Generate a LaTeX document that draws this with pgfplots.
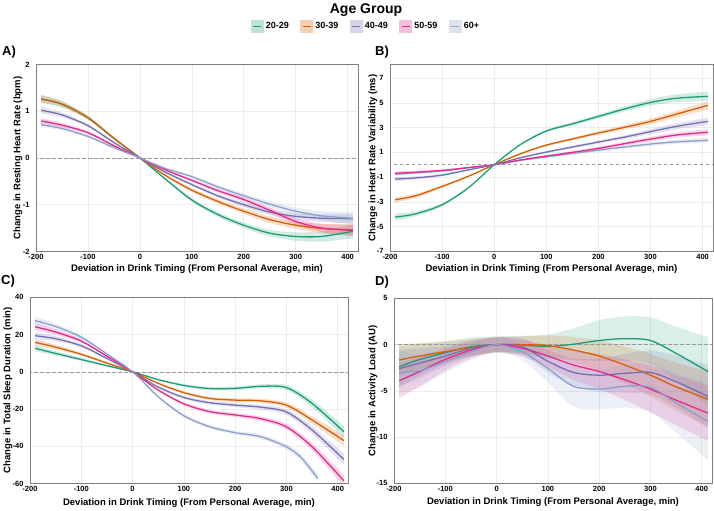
\documentclass[border=0pt]{standalone}
\usepackage{pgfplots}
\pgfplotsset{compat=1.18}
\usepackage{pgfplotstable}
\usepgfplotslibrary{fillbetween}
\usepackage{fontspec}
\setmainfont{Liberation Sans}
\definecolor{colg}{HTML}{1B9E77}
\definecolor{colo}{HTML}{D95F02}
\definecolor{colp}{HTML}{7570B3}
\definecolor{colm}{HTML}{E7298A}
\definecolor{colb}{HTML}{8DA0CB}
\definecolor{bordergray}{HTML}{7F7F7F}

% Panel A: resting heart rate
\pgfplotstableread{
x g o p m b eg eo ep em eb
-190 1.26 1.26 1.02 0.79 0.71 0.09 0.08 0.07 0.06 0.05
-150 1.15 1.15 0.92 0.70 0.63 0.07 0.06 0.05 0.05 0.04
-100 0.86 0.86 0.69 0.54 0.46 0.04 0.04 0.03 0.03 0.03
-50 0.42 0.42 0.33 0.26 0.22 0.02 0.02 0.02 0.02 0.02
0 0 0 0 0 0 0.005 0.005 0.005 0.005 0.005
50 -0.46 -0.38 -0.31 -0.26 -0.23 0.02 0.02 0.02 0.02 0.02
100 -0.90 -0.69 -0.57 -0.48 -0.40 0.04 0.04 0.03 0.03 0.03
150 -1.21 -0.93 -0.81 -0.70 -0.62 0.05 0.05 0.04 0.04 0.04
200 -1.44 -1.14 -1.00 -0.89 -0.81 0.06 0.06 0.05 0.05 0.05
250 -1.61 -1.32 -1.16 -1.12 -0.99 0.07 0.07 0.06 0.06 0.06
300 -1.68 -1.44 -1.25 -1.36 -1.14 0.09 0.08 0.07 0.07 0.08
350 -1.68 -1.51 -1.29 -1.50 -1.24 0.11 0.10 0.08 0.09 0.10
410 -1.57 -1.54 -1.30 -1.55 -1.29 0.15 0.13 0.10 0.12 0.13
}\tabA

% Panel B: heart rate variability
\pgfplotstableread{
x g o p m b eg eo ep em eb
-190 -4.23 -2.83 -1.16 -0.70 -0.75 0.28 0.22 0.18 0.15 0.14
-150 -3.96 -2.50 -1.06 -0.60 -0.65 0.20 0.16 0.13 0.11 0.10
-100 -3.23 -1.75 -0.84 -0.46 -0.50 0.12 0.10 0.08 0.07 0.07
-50 -1.88 -0.94 -0.42 -0.23 -0.25 0.05 0.05 0.04 0.04 0.04
0 0 0 0 0 0 0.01 0.01 0.01 0.01 0.01
50 1.62 0.88 0.56 0.38 0.35 0.06 0.05 0.04 0.04 0.04
100 2.72 1.58 1.02 0.70 0.63 0.10 0.08 0.07 0.07 0.06
150 3.30 2.08 1.43 1.00 0.91 0.13 0.11 0.10 0.09 0.08
200 3.90 2.56 1.83 1.32 1.18 0.17 0.14 0.13 0.12 0.10
250 4.50 3.02 2.23 1.70 1.43 0.21 0.18 0.16 0.15 0.12
300 5.03 3.50 2.67 2.07 1.67 0.26 0.22 0.20 0.18 0.14
350 5.37 4.09 3.10 2.40 1.85 0.31 0.27 0.24 0.21 0.16
410 5.52 4.79 3.50 2.62 1.97 0.38 0.33 0.29 0.25 0.19
}\tabB

% Panel C: total sleep duration
\pgfplotstableread{
x g o p m eg eo ep em
-190 12.6 15.8 19.4 24.2 1.6 1.7 1.8 2.0
-150 9.9 13.3 17.8 21.4 1.2 1.3 1.4 1.5
-100 6.6 9.4 14.0 16.5 0.8 0.8 0.9 0.9
-50 3.3 4.7 7.2 8.4 0.4 0.4 0.4 0.4
0 0 0 0 0 0.05 0.05 0.05 0.05
50 -4.2 -6.2 -8.2 -9.8 0.4 0.4 0.5 0.5
100 -7.3 -11.2 -13.8 -17.2 0.7 0.7 0.8 0.8
150 -9.0 -14.3 -16.6 -21.4 0.9 0.9 1.0 1.0
200 -8.9 -15.2 -17.9 -23.2 1.0 1.0 1.1 1.1
250 -7.8 -15.6 -19.0 -25.2 1.1 1.1 1.2 1.2
300 -8.5 -17.9 -21.6 -29.6 1.4 1.4 1.5 1.5
350 -17.0 -25.9 -31.3 -40.3 2.0 1.9 2.0 2.1
412 -32.2 -37.0 -47.1 -58.6 3.0 2.8 2.9 3.0
}\tabC
\pgfplotstableread{
x b eb
-190 27.5 2.0
-150 24.4 1.5
-100 18.6 0.9
-50 9.6 0.4
0 0 0.05
50 -13.4 0.5
100 -23.6 0.8
150 -29.5 1.0
200 -32.7 1.1
250 -34.9 1.2
300 -40.3 1.5
330 -46.5 1.8
361 -57.3 2.2
}\tabCb

% Panel D: activity load
\pgfplotstableread{
x g o p m b eg eo ep em eb
-190 -2.4 -1.66 -2.6 -3.9 -3.0 2.2 1.7 2.0 1.9 2.3
-150 -1.6 -1.23 -2.0 -2.9 -2.8 1.7 1.4 1.6 1.6 1.8
-100 -0.87 -0.76 -1.23 -1.59 -1.84 1.2 1.1 1.1 1.2 1.2
-50 -0.22 -0.3 -0.4 -0.58 -0.76 1.0 0.9 0.9 0.9 0.9
0 0 0 0 0 0 0.9 0.8 0.8 0.8 0.8
50 -0.04 0 -0.22 -0.4 -0.76 1.0 0.9 0.9 0.9 0.9
100 -0.2 -0.1 -1.8 -1.23 -2.56 1.3 1.1 1.2 1.2 1.5
150 0.05 -0.58 -3.0 -2.2 -4.5 1.7 1.4 1.5 1.6 2.2
200 0.45 -1.23 -3.3 -2.9 -4.8 2.2 1.7 1.8 1.9 2.2
250 0.65 -2.2 -3.1 -3.8 -4.5 2.4 2.0 2.1 2.2 2.3
300 0.45 -3.3 -3.0 -4.8 -4.6 2.5 2.3 2.4 2.5 2.7
350 -0.94 -4.56 -4.0 -6.0 -6.3 2.9 2.6 2.8 2.7 3.2
412 -2.9 -5.9 -5.6 -7.4 -8.3 3.7 3.0 3.4 3.0 4.2
}\tabD

\newcommand{\band}[5]{%
\addplot[draw=none, smooth, forget plot, name path=#2#3u] table[x=x, y expr=\thisrow{#3}+\thisrow{e#3}] {#1};
\addplot[draw=none, smooth, forget plot, name path=#2#3l] table[x=x, y expr=\thisrow{#3}-\thisrow{e#3}] {#1};
\addplot[fill=#4, fill opacity=#5, draw=none, forget plot] fill between[of=#2#3u and #2#3l];
}
\newcommand{\curve}[3]{%
\addplot[color=#3, line width=1.3pt, smooth, forget plot] table[x=x, y=#2] {#1};
}
\newcommand{\zeroline}{%
\addplot[gray!80, line width=0.6pt, dash pattern=on 3.5pt off 2.5pt, forget plot] coordinates {(-250,0) (450,0)};
}

\pgfplotsset{panel/.style={
  scale only axis, anchor=north west,
  xmin=-200, xmax=420,
  xtick={-200,-100,0,100,200,300,400},
  xticklabels={-200,-100,0,100,200,300,400},
  grid=major,
  grid style={gray!15, line width=0.5pt},
  axis line style={bordergray, line width=0.8pt},
  tick style={draw=none},
  ticklabel style={font=\fontsize{7.5}{8}\selectfont\bfseries},
  xticklabel style={yshift=0.5pt},
  yticklabel style={xshift=-3pt},
  label style={font=\fontsize{9.5}{11}\selectfont\bfseries},
  xlabel={Deviation in Drink Timing (From Personal Average, min)},
}}

\begin{document}
\begin{tikzpicture}
\path (0pt,0pt) rectangle (714pt,-509pt);

\node[anchor=base, font=\fontsize{14}{16}\selectfont\bfseries] at (366pt,-12.7pt) {Age Group};

% ---------- A ----------
\begin{axis}[panel, at={(36pt,-64pt)}, width=322pt, height=187pt,
  ymin=-2, ymax=2, ytick={-2,-1,0,1,2}, yticklabels={-2,-1,0,1,2},
  ylabel={Change in Resting Heart Rate (bpm)},
  xlabel style={at={(axis description cs:0.5,-0.095)}, anchor=center},
  ylabel style={at={(axis description cs:-0.056,0.5)}, anchor=center},
  legend columns=5,
  legend style={at={(axis description cs:1.025,1.203)}, anchor=center, draw=none, fill=none,
    font=\fontsize{9}{10}\selectfont\bfseries,
    /tikz/every even column/.append style={column sep=9.5pt}},
  legend image code/.code={\fill[#1, fill opacity=0.3, draw=none] (0pt,-6.5pt) rectangle (13pt,6.5pt);
    \draw[#1, line width=1.4pt] (2.5pt,0pt) -- (10.5pt,0pt);},
]
\band{\tabA}{A}{g}{colg}{0.2}
\band{\tabA}{A}{o}{colo}{0.2}
\band{\tabA}{A}{p}{colp}{0.2}
\band{\tabA}{A}{m}{colm}{0.2}
\band{\tabA}{A}{b}{colb}{0.2}
\zeroline
\curve{\tabA}{g}{colg}
\curve{\tabA}{o}{colo}
\curve{\tabA}{p}{colp}
\curve{\tabA}{m}{colm}
\curve{\tabA}{b}{colb}
\addlegendimage{color=colg}\addlegendentry{20-29}
\addlegendimage{color=colo}\addlegendentry{30-39}
\addlegendimage{color=colp}\addlegendentry{40-49}
\addlegendimage{color=colm}\addlegendentry{50-59}
\addlegendimage{color=colb}\addlegendentry{60+}
\end{axis}

% ---------- B ----------
\begin{axis}[panel, at={(390pt,-64pt)}, width=323pt, height=187pt,
  ymin=-7, ymax=8.1, ytick={-7,-5,-3,-1,1,3,5,7}, yticklabels={-7,-5,-3,-1,1,3,5,7},
  ylabel={Change in Heart Rate Variability (ms)},
  xlabel style={at={(axis description cs:0.5,-0.095)}, anchor=center},
  ylabel style={at={(axis description cs:-0.053,0.5)}, anchor=center},
]
\band{\tabB}{B}{g}{colg}{0.2}
\band{\tabB}{B}{o}{colo}{0.2}
\band{\tabB}{B}{p}{colp}{0.2}
\band{\tabB}{B}{m}{colm}{0.2}
\band{\tabB}{B}{b}{colb}{0.2}
\zeroline
\curve{\tabB}{g}{colg}
\curve{\tabB}{o}{colo}
\curve{\tabB}{b}{colb}
\curve{\tabB}{m}{colm}
\curve{\tabB}{p}{colp}
\end{axis}

% ---------- C ----------
\begin{axis}[panel, at={(30pt,-297pt)}, width=318pt, height=186pt,
  ymin=-60, ymax=40, ytick={-60,-40,-20,0,20,40}, yticklabels={-60,-40,-20,0,20,40},
  ylabel={Change in Total Sleep Duration (min)},
  xlabel style={at={(axis description cs:0.5,-0.103)}, anchor=center},
  ylabel style={at={(axis description cs:-0.069,0.5)}, anchor=center},
]
\band{\tabC}{C}{g}{colg}{0.2}
\band{\tabC}{C}{o}{colo}{0.2}
\band{\tabC}{C}{p}{colp}{0.2}
\band{\tabC}{C}{m}{colm}{0.2}
\band{\tabCb}{C}{b}{colb}{0.2}
\zeroline
\curve{\tabC}{g}{colg}
\curve{\tabC}{o}{colo}
\curve{\tabC}{p}{colp}
\curve{\tabC}{m}{colm}
\curve{\tabCb}{b}{colb}
\end{axis}

% ---------- D ----------
\begin{axis}[panel, at={(394pt,-298pt)}, width=318pt, height=185pt,
  ymin=-15, ymax=5, ytick={-15,-10,-5,0,5}, yticklabels={-15,-10,-5,0,5},
  ylabel={Change in Activity Load (AU)},
  xlabel style={at={(axis description cs:0.5,-0.103)}, anchor=center},
  ylabel style={at={(axis description cs:-0.066,0.5)}, anchor=center},
]
\band{\tabD}{D}{g}{colg}{0.17}
\band{\tabD}{D}{o}{colo}{0.17}
\band{\tabD}{D}{p}{colp}{0.17}
\band{\tabD}{D}{m}{colm}{0.17}
\band{\tabD}{D}{b}{colb}{0.17}
\zeroline
\curve{\tabD}{g}{colg}
\curve{\tabD}{o}{colo}
\curve{\tabD}{p}{colp}
\curve{\tabD}{m}{colm}
\curve{\tabD}{b}{colb}
\end{axis}

\node[anchor=west, inner sep=0pt, font=\fontsize{13}{15}\selectfont\bfseries] at (2pt,-52pt) {A)};
\node[anchor=west, inner sep=0pt, font=\fontsize{13}{15}\selectfont\bfseries] at (375pt,-52pt) {B)};
\node[anchor=west, inner sep=0pt, font=\fontsize{13}{15}\selectfont\bfseries] at (1pt,-281pt) {C)};
\node[anchor=west, inner sep=0pt, font=\fontsize{13}{15}\selectfont\bfseries] at (375pt,-282pt) {D)};
\end{tikzpicture}
\end{document}
